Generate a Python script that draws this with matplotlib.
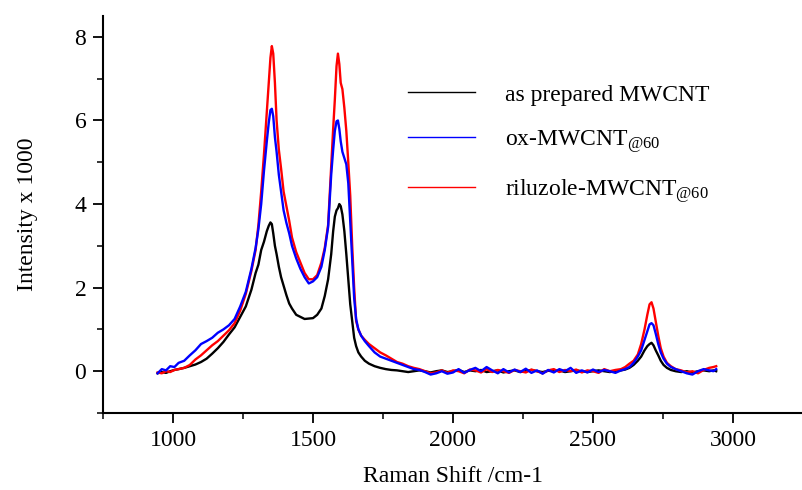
import matplotlib
matplotlib.use("Agg")
import matplotlib.pyplot as plt
from matplotlib.ticker import MultipleLocator

plt.rcParams['font.family'] = ['Liberation Serif', 'DejaVu Serif']
plt.rcParams['mathtext.fontset'] = 'custom'
plt.rcParams['mathtext.rm'] = 'Liberation Serif'
plt.rcParams['mathtext.it'] = 'Liberation Serif:italic'
plt.rcParams['mathtext.bf'] = 'Liberation Serif:bold'

shift = [945, 960, 975, 990, 1005, 1020, 1040, 1060, 1080, 1100, 1120, 1140, 1160, 1180,
         1200, 1220, 1240, 1260, 1280, 1295, 1305, 1315, 1325, 1335, 1342, 1348, 1353,
         1358, 1364, 1370, 1378, 1386, 1395, 1405, 1415, 1425, 1440, 1455, 1470, 1485,
         1500, 1515, 1530, 1542, 1554, 1565, 1572, 1578, 1584, 1589, 1594, 1599, 1605,
         1612, 1619, 1626, 1633, 1640, 1647, 1654, 1662, 1672, 1685, 1700, 1720, 1740,
         1760, 1780, 1800, 1820, 1840, 1860, 1880, 1900, 1920, 1940, 1960, 1980, 2000,
         2020, 2040, 2060, 2080, 2100, 2120, 2140, 2160, 2180, 2200, 2220, 2240, 2260,
         2280, 2300, 2320, 2340, 2360, 2380, 2400, 2420, 2440, 2460, 2480, 2500, 2520,
         2540, 2560, 2580, 2600, 2615, 2630, 2645, 2660, 2672, 2684, 2694, 2702, 2709,
         2716, 2724, 2733, 2742, 2752, 2764, 2778, 2795, 2815, 2835, 2855, 2875, 2895,
         2915, 2930, 2940]

as_prepared = [-0.05, -0.02, -0.04, 0.0, 0.03, 0.05, 0.08, 0.12, 0.16, 0.22, 0.3, 0.42, 0.55, 0.7,
               0.88, 1.05, 1.3, 1.55, 1.95, 2.35, 2.55, 2.9, 3.1, 3.35, 3.48, 3.56, 3.52,
               3.3, 3.0, 2.8, 2.5, 2.25, 2.05, 1.82, 1.62, 1.5, 1.35, 1.3, 1.25, 1.26,
               1.27, 1.35, 1.5, 1.8, 2.2, 2.8, 3.35, 3.7, 3.85, 3.9, 4.0, 3.95, 3.75,
               3.35, 2.8, 2.2, 1.6, 1.2, 0.8, 0.6, 0.45, 0.35, 0.25, 0.18, 0.12, 0.08,
               0.05, 0.03, 0.02, 0.0, -0.02, 0.0, 0.02, 0.0, -0.03, 0.0, 0.02, -0.02, 0.0,
               0.03, -0.02, 0.02, 0.0, 0.03, -0.02, 0.0, 0.02, -0.03, 0.0, 0.02, -0.02, 0.0,
               0.03, 0.0, -0.02, 0.01, 0.0, 0.02, -0.02, 0.0, 0.02, 0.0, -0.02, 0.0, 0.02,
               0.0, -0.02, 0.0, 0.02, 0.04, 0.08, 0.15, 0.25, 0.35, 0.5, 0.6, 0.65, 0.68,
               0.62, 0.5, 0.38, 0.25, 0.15, 0.08, 0.03, 0.0, -0.02, 0.0, -0.03, 0.0, 0.02,
               0.0, 0.02, 0.0]

ox_mwcnt = [-0.05, 0.05, 0.02, 0.12, 0.1, 0.2, 0.25, 0.38, 0.5, 0.65, 0.72, 0.8, 0.92, 1.0,
            1.1, 1.25, 1.55, 1.9, 2.45, 2.95, 3.4, 4.0, 4.8, 5.5, 5.95, 6.25, 6.28,
            6.1, 5.6, 5.25, 4.7, 4.3, 3.85, 3.55, 3.3, 3.0, 2.7, 2.45, 2.25, 2.1,
            2.15, 2.25, 2.5, 2.9, 3.45, 4.7, 5.3, 5.75, 5.98, 6.0, 5.8, 5.5, 5.25,
            5.1, 4.95, 4.5, 3.6, 2.7, 1.75, 1.25, 1.0, 0.85, 0.72, 0.6, 0.45, 0.35,
            0.3, 0.25, 0.2, 0.15, 0.1, 0.05, 0.03, -0.02, -0.08, -0.05, 0.0, -0.06, -0.03,
            0.05, -0.04, 0.03, 0.08, 0.0, 0.1, 0.02, -0.05, 0.05, -0.03, 0.04, -0.02, 0.06,
            -0.04, 0.02, -0.06, 0.03, -0.03, 0.05, 0.0, 0.08, -0.04, 0.02, -0.03, 0.04, -0.02,
            0.03, 0.0, -0.04, 0.02, 0.05, 0.1, 0.2, 0.35, 0.5, 0.75, 0.95, 1.12, 1.15,
            1.1, 0.9, 0.65, 0.45, 0.3, 0.18, 0.1, 0.05, 0.0, -0.05, -0.08, 0.0, 0.05,
            0.02, 0.0, 0.05]

riluzole_mwcnt = [-0.03, -0.05, 0.0, -0.02, 0.03, 0.05, 0.08, 0.15, 0.28, 0.38, 0.5, 0.62, 0.72, 0.85,
                  0.98, 1.15, 1.45, 1.85, 2.4, 2.9, 3.5, 4.3, 5.2, 6.2, 6.9, 7.5, 7.78,
                  7.6, 6.9, 6.0, 5.3, 4.85, 4.3, 3.95, 3.6, 3.2, 2.85, 2.6, 2.35, 2.2,
                  2.2, 2.3, 2.6, 2.95, 3.5, 4.9, 5.8, 6.5, 7.3, 7.6, 7.35, 6.9, 6.75,
                  6.3, 5.75, 5.0, 4.2, 3.0, 2.0, 1.2, 1.0, 0.85, 0.75, 0.65, 0.55, 0.45,
                  0.38, 0.3, 0.22, 0.18, 0.12, 0.08, 0.05, 0.0, -0.05, -0.03, 0.02, -0.04, 0.02,
                  0.0, -0.05, 0.04, 0.02, -0.03, 0.05, -0.02, 0.03, 0.0, -0.04, 0.03, 0.0, -0.03,
                  0.04, 0.0, -0.05, 0.02, 0.05, -0.02, 0.03, 0.0, 0.04, -0.03, 0.02, 0.0, -0.04,
                  0.05, 0.0, 0.03, 0.05, 0.1, 0.18, 0.25, 0.4, 0.65, 1.0, 1.35, 1.6, 1.65,
                  1.5, 1.2, 0.85, 0.55, 0.35, 0.2, 0.12, 0.05, 0.02, -0.03, 0.0, -0.05, 0.03,
                  0.08, 0.1, 0.12]

labels = ['as prepared MWCNT', r'ox-MWCNT$_{\mathrm{@60}}$', r'riluzole-MWCNT$_{\mathrm{@60}}$']
colors = ['#000000', '#0000ff', '#ff0000']

fig = plt.figure(figsize=(8.03, 4.90), dpi=100)
ax = fig.add_axes([103/803, 1-413/490, 1-103/803, (413-16)/490])

l1, = ax.plot(shift, as_prepared, color=colors[0], lw=1.7, zorder=3)
l3, = ax.plot(shift, riluzole_mwcnt, color=colors[2], lw=1.7, zorder=3)
l2, = ax.plot(shift, ox_mwcnt, color=colors[1], lw=1.7, zorder=3)

ax.set_xlim(750, 3250)
ax.set_ylim(-1, 8.5)
ax.xaxis.set_major_locator(MultipleLocator(500))
ax.xaxis.set_minor_locator(MultipleLocator(250))
ax.yaxis.set_major_locator(MultipleLocator(2))
ax.yaxis.set_minor_locator(MultipleLocator(1))

for s in ['top', 'right']:
    ax.spines[s].set_visible(False)
for s in ['left', 'bottom']:
    ax.spines[s].set_linewidth(1.5)

ax.tick_params(which='major', direction='out', length=7, width=1.3, labelsize=17, pad=5)
ax.tick_params(which='minor', direction='out', length=4, width=1.1)

ax.set_xlabel('Raman Shift /cm-1', fontsize=17, labelpad=11)
ax.set_ylabel('Intensity x 1000', fontsize=17, labelpad=26)

leg = ax.legend([l1, l2, l3], labels, loc='upper left',
                bbox_to_anchor=(408/803, 1-84/490), bbox_transform=fig.transFigure,
                frameon=False, fontsize=17, handlelength=2.85, handletextpad=1.25,
                labelspacing=0.95, borderpad=0, borderaxespad=0)
for h in leg.get_lines():
    h.set_linewidth(1.0)

fig.savefig('out.png', dpi=100)
